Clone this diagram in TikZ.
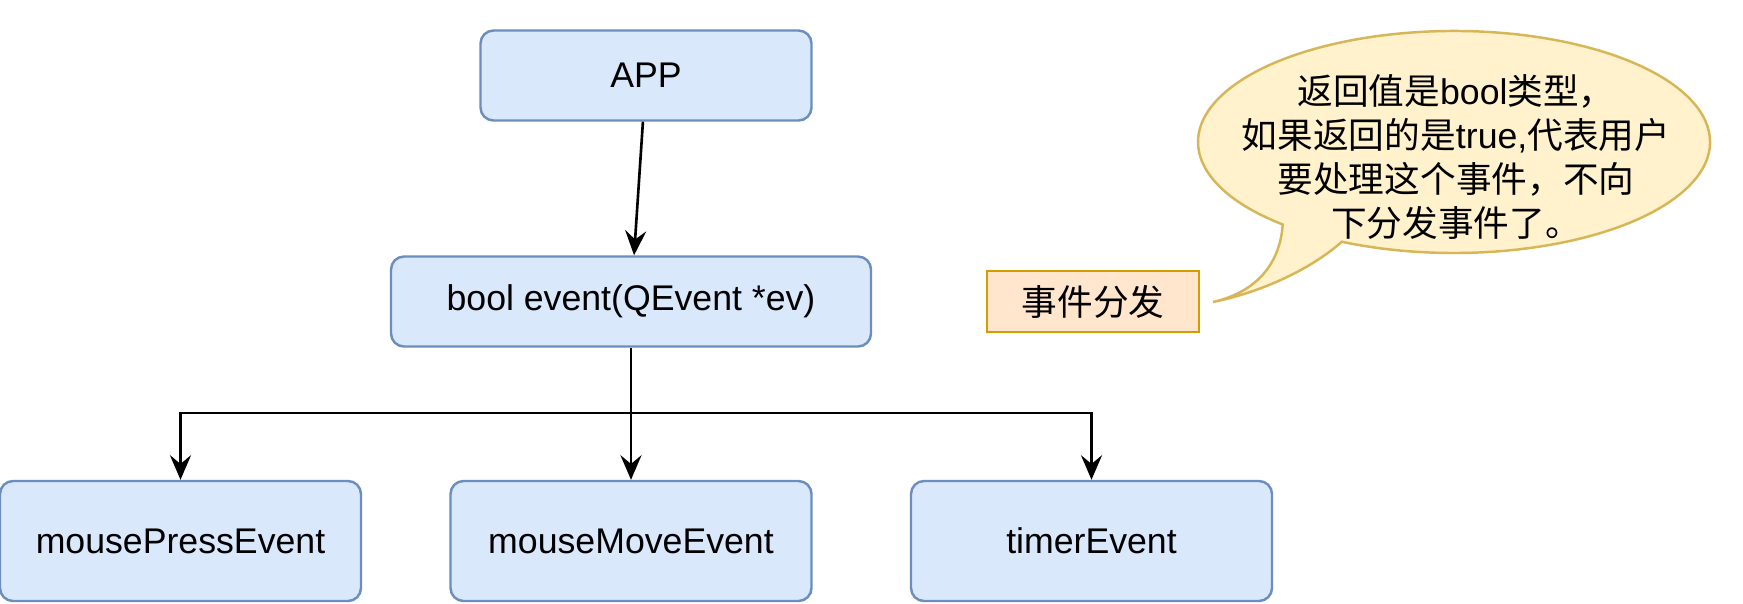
\documentclass[tikz,border=0pt]{standalone}
\usepackage{fontspec}
\setmainfont{Liberation Sans}
\newfontfamily\cjk{Noto Sans CJK SC}
\usepackage{tikz}
\usetikzlibrary{arrows.meta,positioning}
\definecolor{boxfill}{HTML}{DAE8FC}\definecolor{boxline}{HTML}{6C8EBF}
\definecolor{notefill}{HTML}{FFF2CC}\definecolor{noteline}{HTML}{D6B656}
\definecolor{tagfill}{HTML}{FFE6CC}\definecolor{tagline}{HTML}{D79B00}

\begin{document}
\begin{tikzpicture}[>={Stealth[length=14pt,width=12pt,inset=5pt]},every node/.style={font=\fontsize{20.3}{25}\selectfont},
box/.style={draw=boxline,fill=boxfill,line width=1.4pt,rounded corners=0.26cm,minimum height=1.8cm},
a/.style={->,draw=black,line width=1.5pt}]
\useasboundingbox (0,0) rectangle (34.86,-12.06);
\node[box,minimum width=6.62cm] (app) at (12.92,-1.51) {APP};
\node[box,minimum width=9.6cm] (evt) at (12.62,-6.03) {bool event(QEvent *ev)};
\node[box,minimum width=7.22cm,minimum height=2.4cm] (press) at (3.61,-10.82) {mousePressEvent};
\node[box,minimum width=7.22cm,minimum height=2.4cm] (move) at (12.62,-10.82) {mouseMoveEvent};
\node[box,minimum width=7.22cm,minimum height=2.4cm] (timer) at (21.83,-10.82) {timerEvent};
\node[draw=tagline,fill=tagfill,line width=1.4pt,minimum width=4.24cm,minimum height=1.22cm] (tag) at (21.86,-6.03) {\cjk 事件分发};
% callout
\draw[draw=noteline,fill=notefill,line width=1.4pt] (26.836,-4.835) arc[start angle=244,end angle=588,x radius=5.12cm,y radius=2.22cm]
  .. controls (25.6,-5.3) and (25.1,-5.85) .. (24.26,-6.04) .. controls (25.2,-5.85) and (26.2,-5.4) .. cycle;
\node[align=center] (note) at (29.12,-3.14) {{\cjk 返回值是}bool{\cjk 类型，}\\{\cjk 如果返回的是}true,{\cjk 代表用户}\\{\cjk 要处理这个事件，不向}\\{\cjk 下分发事件了。}};
\coordinate (bus) at (12.62,-8.26);
\draw[a] (app)--(evt);\draw[a] (evt)--(move);\draw[a] (bus)-|(press);\draw[a] (bus)-|(timer);
\end{tikzpicture}
\end{document}
